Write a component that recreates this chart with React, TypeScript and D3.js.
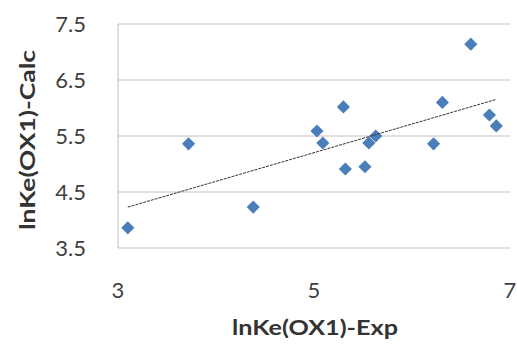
import React from "react";
import * as d3 from "d3";

const expValues = [3.1, 3.72, 4.38, 5.03, 5.09, 5.3, 5.32, 5.52, 5.56, 5.63, 6.22, 6.31, 6.6, 6.79, 6.86];
const calcValues = [3.86, 5.36, 4.23, 5.59, 5.375, 6.02, 4.91, 4.95, 5.375, 5.5, 5.36, 6.1, 7.14, 5.875, 5.68];
const xTicks = [3, 5, 7];
const yTicks = [3.5, 4.5, 5.5, 6.5, 7.5];
const xTitle = "lnKe(OX1)-Exp";
const yTitle = "lnKe(OX1)-Calc";

export default function App() {
  const W = 517, H = 346;
  const left = 118, right = 510, top = 24, bottom = 248;
  const x = d3.scaleLinear().domain([3, 7]).range([left, right]);
  const y = d3.scaleLinear().domain([3.5, 7.5]).range([bottom, top]);
  const pts = expValues.map((v, i) => [v, calcValues[i]] as [number, number]);
  const mx = d3.mean(expValues)!;
  const my = d3.mean(calcValues)!;
  let sxy = 0, sxx = 0;
  pts.forEach(([a, b]) => { sxy += (a - mx) * (b - my); sxx += (a - mx) ** 2; });
  const slope = sxy / sxx;
  const icpt = my - slope * mx;
  const [x0, x1] = d3.extent(expValues) as [number, number];
  const line = d3.line<number>().x(d => x(d)).y(d => y(slope * d + icpt));
  const diamond = d3.symbol().type(d3.symbolDiamond2).size(110)();
  const font = "Lato, 'Open Sans', sans-serif";
  return (
    <svg width={W} height={H} style={{ position: "absolute", left: 0, top: 0, background: "#fff" }}>
      {yTicks.map(t => (
        <line key={t} x1={left} x2={right} y1={y(t)} y2={y(t)} stroke="#c0c0c0" strokeWidth={1} />
      ))}
      <line x1={left} x2={left} y1={top} y2={bottom} stroke="#c0c0c0" strokeWidth={1} />
      {yTicks.map(t => (
        <text key={t} x={86} y={y(t)} dy="0.36em" textAnchor="end" fontFamily={font} fontSize={22} fill="#404040">
          {d3.format(".1f")(t)}
        </text>
      ))}
      {xTicks.map(t => (
        <text key={t} x={x(t)} y={298} textAnchor="middle" fontFamily={font} fontSize={22} fill="#404040">
          {t}
        </text>
      ))}
      {pts.map(([a, b], i) => (
        <path key={i} d={diamond!} transform={`translate(${x(a)},${y(b)})`} fill="#4a7ebb" />
      ))}
      <path d={line([x0, x1])!} stroke="#333" strokeWidth={1} strokeDasharray="3,1" fill="none" />
      <text x={315} y={335} textAnchor="middle" fontFamily={font} fontSize={21} fontWeight="bold" fill="#333"
        textLength={166} lengthAdjust="spacingAndGlyphs">{xTitle}</text>
      <text transform="translate(35,140) rotate(-90)" textAnchor="middle" fontFamily={font} fontSize={21} fontWeight="bold" fill="#333"
        textLength={180} lengthAdjust="spacingAndGlyphs">{yTitle}</text>
    </svg>
  );
}
